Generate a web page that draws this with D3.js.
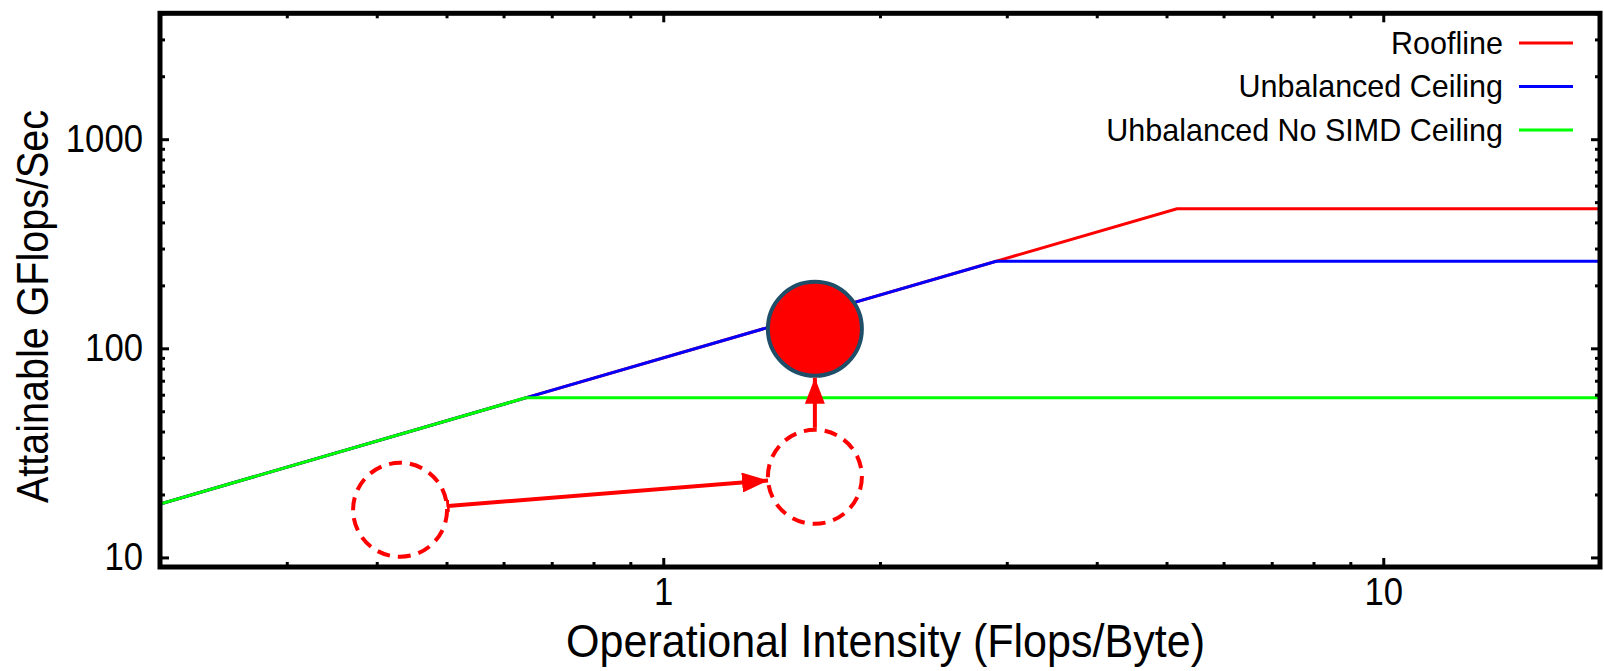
<!DOCTYPE html>
<html>
<head>
<meta charset="utf-8">
<script src="https://cdn.jsdelivr.net/npm/d3@7"></script>
<style>
  html, body { margin: 0; padding: 0; background: #ffffff; }
  svg { display: block; }
  text { font-family: "Liberation Sans", Arial, Helvetica, sans-serif; fill: #000; }
</style>
</head>
<body>
<svg id="chart" width="1604" height="671"></svg>
<script>
// Roofline model: each series is [operational intensity, GFlops/s] vertices
const rooflinePts = [[0.2, 18], [5.17, 465], [20, 465]];
const unbalancedPts = [[0.2, 18], [2.9, 261], [20, 261]];
const noSimdPts = [[0.2, 18], [0.644, 58], [20, 58]];

const seriesNames = ["Roofline", "Unbalanced Ceiling", "Uhbalanced No SIMD Ceiling"];
const seriesColors = ["#ff0000", "#0000ff", "#00ff00"];

const xMajorTicks = [1, 10];
const xMinorTicks = [0.2, 0.3, 0.4, 0.5, 0.6, 0.7, 0.8, 0.9, 2, 3, 4, 5, 6, 7, 8, 9, 20];
const yMajorTicks = [10, 100, 1000];
const yMinorTicks = [20, 30, 40, 50, 60, 70, 80, 90, 200, 300, 400, 500, 600, 700, 800, 900, 2000, 3000, 4000];

// Kernel position before and after optimisation (intensity, GFlops/s)
const startKernel = [0.431, 16.9];
const midKernel = [1.624, 24.3];
const endKernel = [1.624, 124];

const xDomain = [0.2, 20];
const yDomain = [9, 4000];

const svg = d3.select("#chart");
const W = 1604, H = 671;
const plot = { left: 160, right: 1600, top: 13.3, bottom: 567 };

svg.append("rect").attr("width", W).attr("height", H).attr("fill", "#fff");

const x = d3.scaleLog().domain(xDomain).range([plot.left, plot.right]);
const y = d3.scaleLog().domain(yDomain).range([plot.bottom, plot.top]);

const line = d3.line().x(d => x(d[0])).y(d => y(d[1]));

// Clip the series to the plotting frame
svg.append("clipPath").attr("id", "plotClip")
  .append("rect")
  .attr("x", plot.left).attr("y", plot.top)
  .attr("width", plot.right - plot.left).attr("height", plot.bottom - plot.top);

const gLines = svg.append("g").attr("clip-path", "url(#plotClip)");
[rooflinePts, unbalancedPts, noSimdPts].forEach((pts, i) => {
  gLines.append("path")
    .attr("d", line(pts))
    .attr("fill", "none")
    .attr("stroke", seriesColors[i])
    .attr("stroke-width", 3)
    .attr("stroke-linejoin", "miter");
});

// Axes: inward ticks on all four sides, gnuplot style
const tickFont = 38;
const digitWidth = 19.3; // slightly condensed numerals
function addAxis(axisGen, transform, isLabelled) {
  const g = svg.append("g").attr("transform", transform).call(axisGen);
  g.select(".domain").remove();
  g.selectAll(".tick line").attr("stroke", "#000").attr("stroke-width", 3);
  if (!isLabelled) {
    g.selectAll(".tick text").remove();
  } else {
    g.selectAll(".tick text")
      .attr("font-size", tickFont)
      .attr("font-family", "Liberation Sans, Arial, sans-serif")
      .attr("fill", "#000")
      .attr("textLength", function () { return this.textContent.length * digitWidth; })
      .attr("lengthAdjust", "spacingAndGlyphs");
  }
  return g;
}

// bottom
addAxis(d3.axisBottom(x).tickValues(xMinorTicks).tickSize(-5).tickFormat(""), `translate(0,${plot.bottom})`, false);
addAxis(d3.axisBottom(x).tickValues(xMajorTicks).tickSize(-9).tickPadding(11).tickFormat(d3.format("d")), `translate(0,${plot.bottom})`, true);
// top
addAxis(d3.axisTop(x).tickValues(xMinorTicks).tickSize(-5).tickFormat(""), `translate(0,${plot.top})`, false);
addAxis(d3.axisTop(x).tickValues(xMajorTicks).tickSize(-9).tickFormat(""), `translate(0,${plot.top})`, false);
// left
addAxis(d3.axisLeft(y).tickValues(yMinorTicks).tickSize(-5).tickFormat(""), `translate(${plot.left},0)`, false);
addAxis(d3.axisLeft(y).tickValues(yMajorTicks).tickSize(-9).tickPadding(17).tickFormat(d3.format("d")), `translate(${plot.left},0)`, true);
// right
addAxis(d3.axisRight(y).tickValues(yMinorTicks).tickSize(-5).tickFormat(""), `translate(${plot.right},0)`, false);
addAxis(d3.axisRight(y).tickValues(yMajorTicks).tickSize(-9).tickFormat(""), `translate(${plot.right},0)`, false);

// Frame
svg.append("rect")
  .attr("x", plot.left).attr("y", plot.top)
  .attr("width", plot.right - plot.left).attr("height", plot.bottom - plot.top)
  .attr("fill", "none").attr("stroke", "#000").attr("stroke-width", 5);

// Axis titles
svg.append("text")
  .attr("x", 885.5).attr("y", 657)
  .attr("text-anchor", "middle")
  .attr("font-size", 47)
  .attr("textLength", 639).attr("lengthAdjust", "spacingAndGlyphs")
  .text("Operational Intensity (Flops/Byte)");

svg.append("text")
  .attr("transform", "translate(48,306.5) rotate(-90)")
  .attr("text-anchor", "middle")
  .attr("font-size", 44)
  .attr("textLength", 393).attr("lengthAdjust", "spacingAndGlyphs")
  .text("Attainable GFlops/Sec");

// Legend
const legend = svg.append("g");
seriesNames.forEach((name, i) => {
  const cy = 43 + i * 43.5;
  legend.append("text")
    .attr("x", 1503).attr("y", cy + 10.5)
    .attr("text-anchor", "end")
    .attr("font-size", 30.5)
    .text(name);
  legend.append("line")
    .attr("x1", 1519).attr("x2", 1573)
    .attr("y1", cy).attr("y2", cy)
    .attr("stroke", seriesColors[i]).attr("stroke-width", 3);
});

// Annotation: kernel moving from the start position to the optimised one
const r = 47;
const red = "#ff0000";
const defs = svg.append("defs");
defs.append("marker")
  .attr("id", "head")
  .attr("viewBox", "0 0 10 10")
  .attr("preserveAspectRatio", "none")
  .attr("refX", 10).attr("refY", 5)
  .attr("markerUnits", "userSpaceOnUse")
  .attr("markerWidth", 26).attr("markerHeight", 20)
  .attr("orient", "auto")
  .append("path").attr("d", "M0,0 L10,5 L0,10 Z").attr("fill", red);
defs.append("marker")
  .attr("id", "bar")
  .attr("viewBox", "0 0 2 10")
  .attr("preserveAspectRatio", "none")
  .attr("refX", 1).attr("refY", 5)
  .attr("markerUnits", "userSpaceOnUse")
  .attr("markerWidth", 3).attr("markerHeight", 12)
  .attr("orient", "auto")
  .append("rect").attr("x", 0).attr("y", 0).attr("width", 2).attr("height", 10).attr("fill", red);

const p0 = [x(startKernel[0]), y(startKernel[1])];
const p1 = [x(midKernel[0]), y(midKernel[1])];
const p2 = [x(endKernel[0]), y(endKernel[1])];

[p0, p1].forEach(p => {
  svg.append("circle")
    .attr("cx", p[0]).attr("cy", p[1]).attr("r", r)
    .attr("fill", "none").attr("stroke", red)
    .attr("stroke-width", 4).attr("stroke-dasharray", "13 8");
});

svg.append("circle")
  .attr("cx", p2[0]).attr("cy", p2[1]).attr("r", r)
  .attr("fill", red).attr("stroke", "#1f4e69").attr("stroke-width", 4);

function edgeArrow(a, b, ra, rb, startBar) {
  const dx = b[0] - a[0], dy = b[1] - a[1];
  const len = Math.hypot(dx, dy);
  const ux = dx / len, uy = dy / len;
  const path = svg.append("line")
    .attr("x1", a[0] + ux * ra).attr("y1", a[1] + uy * ra)
    .attr("x2", b[0] - ux * rb).attr("y2", b[1] - uy * rb)
    .attr("stroke", red).attr("stroke-width", 4)
    .attr("marker-end", "url(#head)");
  if (startBar) path.attr("marker-start", "url(#bar)");
}
edgeArrow(p0, p1, r + 1, r, true);
edgeArrow(p1, p2, r + 2, r + 2, false);
</script>
</body>
</html>
